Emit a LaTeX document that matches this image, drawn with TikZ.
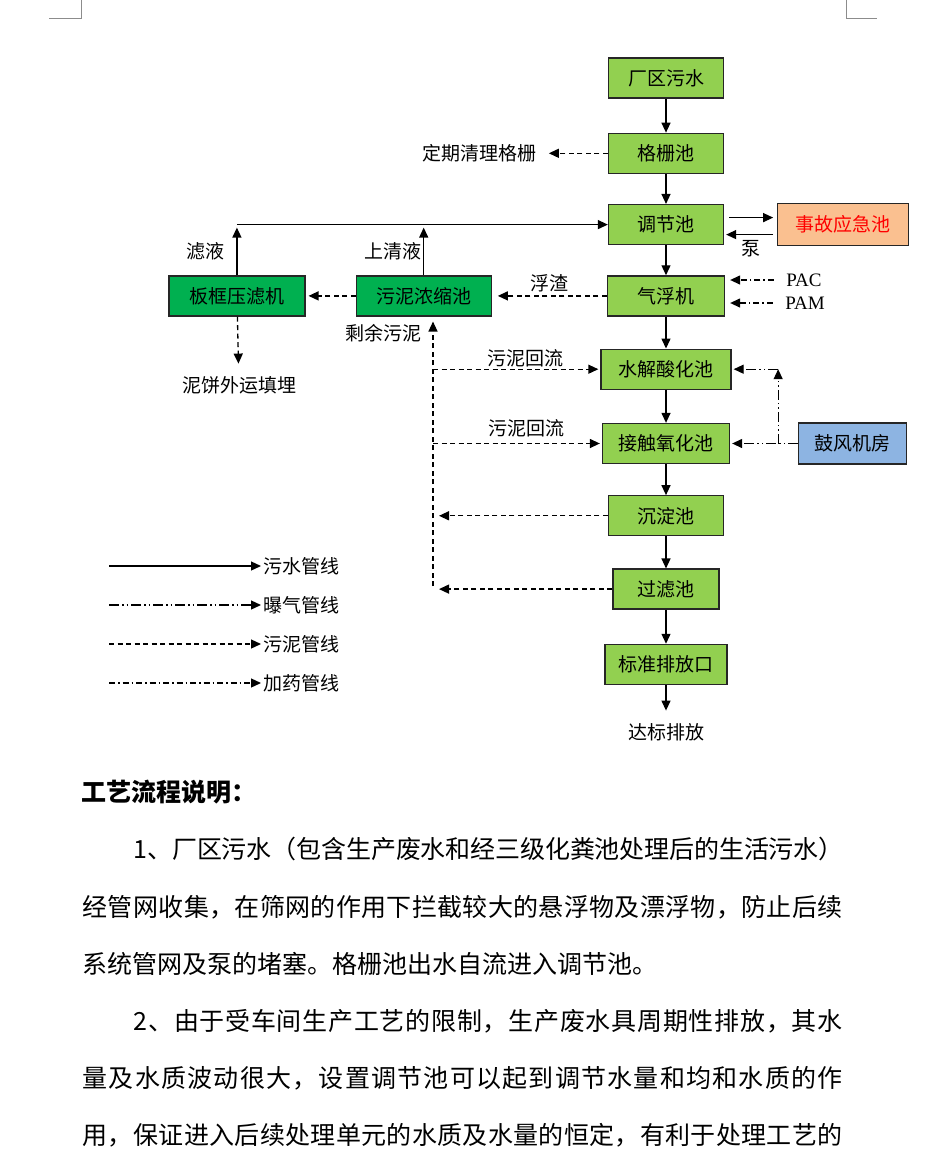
\documentclass[tikz,border=0pt]{standalone}
\usepackage{fontspec}
\setmainfont{Liberation Serif}
\newfontfamily\cjk{Noto Sans CJK SC}
\usepackage{tikz}
\usetikzlibrary{positioning,calc,arrows.meta}
\definecolor{boxgreen}{HTML}{92D050}
\definecolor{darkgreen}{HTML}{00B050}
\definecolor{boxorange}{HTML}{FAC090}
\definecolor{boxblue}{HTML}{8DB4E2}
% glue between CJK characters, used to justify the text lines
\newcount\cjkc
\cjkc="4E00
\loop \XeTeXcharclass\cjkc=1 \advance\cjkc by 1 \ifnum\cjkc<"A000 \repeat
\XeTeXcharclass"3001=1 \XeTeXcharclass"3002=1 \XeTeXcharclass"FF0C=1
\XeTeXcharclass"FF08=1 \XeTeXcharclass"FF09=1 \XeTeXcharclass"FF1A=1
\XeTeXinterchartoks 1 1 = {\hskip 0pt plus 2pt minus 1pt}
\XeTeXinterchartoks 0 1 = {\hskip 0pt plus 2pt minus 1pt}
\newcommand{\fullline}[2]{\XeTeXinterchartokenstate=1 \makebox[#1][s]{#2}}

\begin{document}
\begin{tikzpicture}[x=1pt, y=-1pt, >={Triangle[length=10pt,width=9pt]}, line width=1.3pt,
  font=\cjk\fontsize{19pt}{19pt}\selectfont,
  procbox/.style={draw=black!85, fill=boxgreen, minimum width=115pt, minimum height=40pt, inner sep=0pt},
  lbl/.style={inner sep=2pt},
  chem/.style={inner sep=2pt, font=\rmfamily\fontsize{19pt}{19pt}\selectfont},
  sludgeline/.style={dash pattern=on 5pt off 3.5pt},
  airline/.style={dash pattern=on 10pt off 3pt on 1.5pt off 3pt on 1.5pt off 3pt},
  dosingline/.style={dash pattern=on 6pt off 3pt on 1.5pt off 3pt},
  bodyline/.style={anchor=west, inner sep=0pt, font=\cjk\fontsize{25pt}{25pt}\selectfont}]
\path[use as bounding box, fill=white] (0,0) rectangle (938,1153);
% page corner marks
\draw[black!45, line width=1pt] (49,19) -- (81,19) -- (81,0);
\draw[black!45, line width=1pt] (846,0) -- (846,19) -- (877,19);
% main treatment line
\node[procbox] (m0) at (666,78) {厂区污水};
\node[procbox, below=34pt of m0] (m1) {格栅池};
\draw[->] (m0) -- (m1);
\node[procbox, below=30pt of m1] (m2) {调节池};
\draw[->] (m1) -- (m2);
\node[procbox, minimum width=117pt, below=30pt of m2] (m3) {气浮机};
\draw[->] (m2) -- (m3);
\node[procbox, minimum width=130pt, below=32pt of m3] (m4) {水解酸化池};
\draw[->] (m3) -- (m4);
\node[procbox, minimum width=127pt, below=33pt of m4] (m5) {接触氧化池};
\draw[->] (m4) -- (m5);
\node[procbox, below=31pt of m5] (m6) {沉淀池};
\draw[->] (m5) -- (m6);
\node[procbox, minimum width=106pt, below=32pt of m6] (m7) {过滤池};
\draw[->] (m6) -- (m7);
\node[procbox, minimum width=122pt, below=34pt of m7] (m8) {标准排放口};
\draw[->] (m7) -- (m8);
\node[lbl] (m9) at (666,732) {达标排放};
\draw[->, shorten >=10pt] (m8) -- (m9);
% screen cleaning
\node[lbl, left=69pt of m1] (l1) {定期清理格栅};
\draw[sludgeline, ->, shorten >=10pt] (m1) -- (l1);
% emergency tank
\node[procbox, fill=boxorange, text=red, minimum width=131pt, minimum height=42pt, right=53pt of m2] (e1) {事故应急池};
\draw[->, shorten <=5pt, shorten >=4pt] ($(m2.east)+(0,-7)$) -- ($(m2.east -| e1.west)+(0,-7)$);
\draw[->, shorten <=4pt, shorten >=2pt] ($(m2.east -| e1.west)+(0,10)$) -- ($(m2.east)+(0,10)$);
\node[lbl] (l2) at ($(m2.east)!0.5!(e1.west)+(0,24)$) {泵};
% dosing
\node[chem] (l3) at (804,280) {PAC};
\draw[dosingline, ->, shorten <=10pt, shorten >=5pt] (l3.west) -- (l3.west -| m3.east);
\node[chem] (l4) at (805,303) {PAM};
\draw[dosingline, ->, shorten <=10pt, shorten >=5pt] (l4.west) -- (l4.west -| m3.east);
% sludge treatment
\node[procbox, fill=darkgreen, minimum width=135pt, left=115pt of m3] (t1) {污泥浓缩池};
\draw[sludgeline, ->, shorten >=6pt] (m3) -- (t1);
\node[lbl] (l5) at ($(m3.west)!0.5!(t1.east)+(0,-13)$) {浮渣};
\node[procbox, fill=darkgreen, minimum width=136pt, left=50pt of t1] (t2) {板框压滤机};
\draw[sludgeline, ->, shorten >=3pt] (t1) -- (t2);
\node[lbl] (l6) at (239,385) {泥饼外运填埋};
\draw[sludgeline, ->, shorten >=10pt] (t2) -- (l6);
% liquid back to equalization tank
\coordinate (j1) at (t2.north |- m2.west);
\draw[->, shorten >=3pt] (t2) -- (j1);
\draw[->] (j1) -- (m2);
\draw[->, shorten >=3pt] (t1) -- (t1.north |- j1);
\node[lbl] (l7) at ($(t2.north)+(-31,-24)$) {滤液};
\node[lbl] (l8) at ($(t1.north)+(-31,-24)$) {上清液};
% sludge return
\coordinate (r0) at (433,586);
\draw[sludgeline, ->, shorten >=5pt] (r0) -- (r0 |- t1.south);
\node[lbl] (l9) at ($(r0 |- t1.south)+(-50,17)$) {剩余污泥};
\draw[sludgeline, ->, shorten >=2pt] (r0 |- m4.west) -- (m4);
\node[lbl] (l10) at ($(m4.west)+(-75,-11)$) {污泥回流};
\draw[sludgeline, ->, shorten >=2pt] (r0 |- m5.west) -- (m5);
\node[lbl] (l11) at ($(m5.west)+(-75,-15)$) {污泥回流};
\draw[sludgeline, ->, shorten >=6pt] (m6) -- (r0 |- m6.west);
\draw[sludgeline, ->, shorten >=6pt] (m7) -- (r0 |- m7.west);
% aeration
\node[procbox, fill=boxblue, minimum width=108pt, minimum height=41pt, right=68pt of m5] (b1) {鼓风机房};
\coordinate (a1) at ($(b1.west)+(-20,0)$);
\draw[airline, ->, shorten >=2pt] (b1) -- (m5);
\draw[airline, ->] (a1) -- (a1 |- m4.east);
\draw[airline, ->, shorten >=2pt] (a1 |- m4.east) -- (m4);
% legend
\node[lbl, anchor=west] (g1) at (261,566) {污水管线};
\coordinate (g1s) at (109,566);
\draw[->] (g1s) -- (g1);
\node[lbl, anchor=west] (g2) at (261,605) {曝气管线};
\coordinate (g2s) at (109,605);
\draw[airline, ->] (g2s) -- (g2);
\node[lbl, anchor=west] (g3) at (261,644) {污泥管线};
\coordinate (g3s) at (109,644);
\draw[sludgeline, ->] (g3s) -- (g3);
\node[lbl, anchor=west] (g4) at (261,683) {加药管线};
\coordinate (g4s) at (109,683);
\draw[dosingline, ->] (g4s) -- (g4);
% description text
\node[bodyline, font=\cjk\bfseries\fontsize{25pt}{25pt}\selectfont] (h0) at (81,792) {工艺流程说明：};
\node[bodyline] (p1) at (133,849) {\fullline{710pt}{1、厂区污水（包含生产废水和经三级化粪池处理后的生活污水）}};
\node[bodyline] (p2) at (82,907) {\fullline{760pt}{经管网收集，在筛网的作用下拦截较大的悬浮物及漂浮物，防止后续}};
\node[bodyline] (p3) at (82,964) {系统管网及泵的堵塞。格栅池出水自流进入调节池。};
\node[bodyline] (p4) at (133,1021) {\fullline{709pt}{2、由于受车间生产工艺的限制，生产废水具周期性排放，其水}};
\node[bodyline] (p5) at (82,1078) {\fullline{760pt}{量及水质波动很大，设置调节池可以起到调节水量和均和水质的作}};
\node[bodyline] (p6) at (82,1135) {\fullline{760pt}{用，保证进入后续处理单元的水质及水量的恒定，有利于处理工艺的}};
\end{tikzpicture}
\end{document}
